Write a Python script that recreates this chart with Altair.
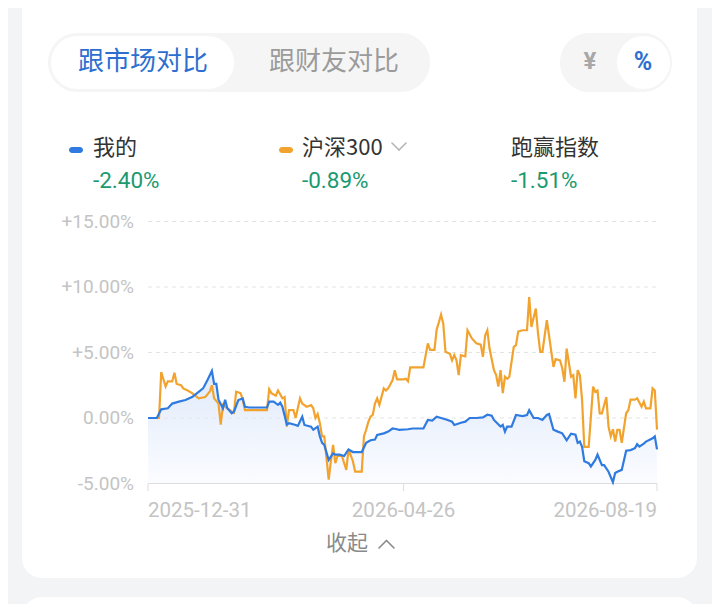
import altair as alt
import pandas as pd

# ---------------- data ----------------
START = "2025-12-31"
x_tick_labels = ["2025-12-31", "2026-04-26", "2026-08-19"]
y_ticks = [-5, 0, 5, 10, 15]
y_tick_labels = ["-5.00%", "0.00%", "+5.00%", "+10.00%", "+15.00%"]

# days since 2025-12-31, cumulative return (%)
me_days = [0, 4, 6, 9, 11, 14, 17, 20, 23, 25, 27, 29, 30, 31, 32, 34, 35, 36, 38, 39, 41, 43, 44, 46, 54, 55, 57, 59, 60, 61,
           63, 64, 67, 68, 70, 71, 74, 75, 77, 78, 79, 80, 82, 84, 85, 87, 89, 91, 93, 97, 99, 101, 103, 104, 107, 109, 111, 113, 114, 118,
           120, 125, 127, 129, 131, 133, 136, 138, 139, 142, 144, 146, 149, 152, 154, 156, 157, 160, 161, 162, 163, 165, 167, 170, 172, 173, 175, 177, 179, 181,
           182, 184, 186, 188, 190, 192, 194, 195, 196, 197, 198, 200, 201, 203, 204, 206, 207, 209, 210, 211, 212, 213, 215, 217, 219, 221, 222, 223, 225, 226,
           229, 230, 231]
me_vals = [0, 0, 0.66, 0.74, 1.1, 1.25, 1.37, 1.6, 2.0, 2.26, 2.9, 3.6, 2.6, 2.6, 1.4, 0.74, 1.4, 0.74, 0.36, 0.48, 1.37, 1.5, 0.86, 0.8, 0.8, 1.25, 1.25, 1.0, 1.17, 0.86,
           -0.5, -0.4, -0.53, -0.6, 0.1, -0.53, -0.66, -0.9, -0.66, -1.4, -1.9, -2.05, -3.2, -2.7, -2.8, -2.8, -2.9, -2.4, -2.6, -2.6, -1.9, -1.7, -1.65, -1.3, -1.17, -1.04, -0.8, -0.86, -0.9, -0.86,
           -0.8, -0.8, -0.15, -0.2, 0.1, 0.0, -0.15, -0.28, -0.53, -0.36, -0.28, 0.0, 0.0, 0.05, 0.25, 0.18, -0.15, -0.66, -0.53, -1.04, -0.66, -0.66, 0.23, 0.15, 0.23, 0.6, 0.0, 0.0, -0.15, 0.23,
           0.3, -0.9, -1.04, -1.17, -1.7, -1.2, -1.28, -1.9, -1.8, -2.2, -3.3, -3.45, -3.7, -3.2, -2.8, -3.6, -3.6, -4.1, -4.5, -4.9, -4.2, -4.1, -3.96, -2.5, -2.45, -2.3, -2.0, -2.18, -1.95, -1.8,
           -1.55, -1.4, -2.40]

hs_days = [0, 5, 6, 8, 9, 11, 12, 13, 15, 16, 18, 20, 23, 26, 28, 29, 30, 32, 33, 34, 36, 38, 39, 40, 42, 43, 44, 54, 55, 56,
           58, 59, 61, 62, 63, 64, 66, 67, 69, 70, 72, 74, 75, 76, 77, 78, 79, 80, 82, 83, 84, 85, 86, 88, 90, 91, 93, 94, 97, 98,
           99, 100, 101, 102, 103, 104, 105, 107, 108, 109, 111, 112, 113, 116, 117, 118, 119, 125, 127, 128, 130, 131, 132, 133, 134, 135, 137, 138, 139, 140,
           141, 142, 144, 145, 147, 149, 151, 152, 153, 154, 155, 157, 158, 159, 160, 161, 162, 163, 164, 166, 167, 168, 170, 172, 173, 174, 176, 177, 178, 179,
           181, 182, 184, 185, 187, 188, 189, 190, 192, 193, 194, 195, 196, 197, 198, 200, 202, 203, 204, 205, 206, 208, 209, 210, 211, 212, 213, 214, 215, 217,
           218, 219, 221, 222, 224, 225, 226, 228, 229, 230, 231]
hs_vals = [0, 0, 3.5, 2.4, 2.8, 2.8, 3.45, 2.6, 2.5, 2.26, 2.1, 1.9, 1.5, 1.6, 2.0, 2.5, 1.5, 1.1, -0.5, 1.0, 0.74, 0.5, 0.4, 2.0, 1.9, 1.4, 0.6, 0.6, 2.2, 1.9,
           1.7, 2.1, 1.5, 1.6, -0.66, 0.6, 0.6, 0.0, 1.5, 1.1, 0.86, 0.98, 0.74, 0.0, 0.3, -0.4, -1.4, -1.4, -4.7, -3.3, -2.05, -3.45, -2.9, -2.9, -3.96, -2.4, -3.3, -4.1, -4.1, -1.4,
           -0.9, -0.3, 0.1, 0.23, 1.1, 1.5, 1.0, 2.26, 2.1, 2.26, 2.9, 3.65, 2.95, 2.95, 3.0, 2.8, 3.86, 3.86, 5.7, 5.2, 5.2, 6.75, 7.3, 7.9, 7.2, 5.05, 4.9, 4.4, 4.8, 4.4,
           3.27, 4.8, 4.7, 6.7, 6.07, 5.7, 5.6, 4.67, 6.3, 6.7, 5.3, 3.65, 3.27, 2.4, 3.65, 1.9, 3.15, 3.0, 3.15, 5.43, 5.56, 6.6, 6.7, 6.7, 9.24, 6.95, 8.35, 6.45, 5.05, 5.05,
           7.46, 6.3, 3.9, 4.5, 4.4, 3.8, 2.77, 5.3, 3.15, 3.27, 1.5, 3.65, 3.27, 1.37, -2.2, -2.2, 2.4, 2.0, 2.1, 0.36, 0.36, 1.6, -0.66, -1.4, -0.86, -1.8, -0.9, -0.9, -1.9, 0.36,
           0.6, 1.4, 1.4, 1.5, 0.86, 1.25, 0.74, 0.74, 2.26, 2.1, -0.89]

tabs = ["跟市场对比", "跟财友对比"]
legend_names = ["我的", "沪深300", "跑赢指数"]
legend_values = ["-2.40%", "-0.89%", "-1.51%"]
units = ["¥", "%"]
collapse_label = "收起"

# ---------------- style ----------------
BLUE = "#2f7be0"
ORANGE = "#f2a32e"
GREEN = "#1b9a70"
GRAY_LBL = "#c4c4c4"
CJK = "Noto Sans CJK SC"
NUM = "Roboto"

start = pd.Timestamp(START)
tick_days = [(pd.Timestamp(d) - start).days for d in x_tick_labels]
end_day = tick_days[-1]

xs = alt.Scale(domain=[0, end_day], range=[140, 649], nice=False, zero=False)
ys = alt.Scale(domain=[-5, 15], range=[475.5, 213.5], nice=False, zero=False)

me_df = pd.DataFrame({"day": me_days, "val": me_vals})
me_df["base"] = y_ticks[0]
hs_df = pd.DataFrame({"day": hs_days, "val": hs_vals})
grid_df = pd.DataFrame({"v": y_ticks, "lbl": y_tick_labels, "x0": 0, "x1": end_day})
xt_df = pd.DataFrame({"day": tick_days, "lbl": x_tick_labels, "bot": y_ticks[0]})

one = pd.DataFrame({"k": [0]})


def rect(x, x2, y, y2, color, r):
    return alt.Chart(one).mark_rect(color=color, cornerRadius=r).encode(
        x=alt.value(x), x2=alt.value(x2), y=alt.value(y), y2=alt.value(y2))


def txt(t, x, y, size, color, font=CJK, align="left", weight="normal"):
    return alt.Chart(one).mark_text(text=t, align=align, baseline="middle", fontSize=size,
                                    color=color, font=font, fontWeight=weight).encode(
        x=alt.value(x), y=alt.value(y))


def seg(x, y, x2, y2, color, w=1.6):
    return alt.Chart(one).mark_rule(color=color, strokeWidth=w, strokeCap="round").encode(
        x=alt.value(x), y=alt.value(y), x2=alt.value(x2), y2=alt.value(y2))


X = alt.X("day:Q", scale=xs, axis=None)

layers = [
    # cards
    rect(14, 689, -40, 570, "white", 20),
    rect(14, 689, 589, 660, "white", 20),
    # tabs
    rect(40, 422, 25, 84, "#f5f5f6", 30),
    rect(43, 226, 28, 81, "white", 27),
    txt(tabs[0], 135, 54, 26, "#2d6fd0", align="center"),
    txt(tabs[1], 326, 54, 26, "#9b9b9b", align="center"),
    rect(552, 664, 25, 84, "#f5f5f6", 30),
    rect(609, 662, 28, 81, "white", 27),
    txt(units[0], 582, 54, 24, "#a8a8a8", font=NUM, align="center", weight="bold"),
    txt(units[1], 635, 54, 25, "#2d6fd0", font=NUM, align="center", weight="bold"),
    # legend
    rect(61, 75, 139, 145, BLUE, 3),
    txt(legend_names[0], 85, 140, 22, "#333333"),
    txt(legend_values[0], 85, 173, 22.5, GREEN, font=NUM),
    rect(271, 285, 139, 145, ORANGE, 3),
    txt(legend_names[1], 294, 140, 22, "#333333"),
    seg(384, 135, 391, 142, "#b5b5b5"),
    seg(391, 142, 398, 135, "#b5b5b5"),
    txt(legend_values[1], 294, 173, 22.5, GREEN, font=NUM),
    txt(legend_names[2], 503, 140, 22, "#333333"),
    txt(legend_values[2], 503, 173, 22.5, GREEN, font=NUM),
    # collapse
    txt(collapse_label, 339, 536, 21, "#8a8a8a", align="center"),
    seg(371, 540, 378.5, 532.5, "#8a8a8a"),
    seg(378.5, 532.5, 386, 540, "#8a8a8a"),
]

grid = alt.Chart(grid_df[grid_df.v > y_ticks[0]]).mark_rule(
    color="#e4e4e4", strokeDash=[4, 4], strokeWidth=1).encode(
    x=alt.X("x0:Q", scale=xs, axis=None), x2="x1:Q",
    y=alt.Y("v:Q", scale=ys, axis=None))
base_line = alt.Chart(grid_df[grid_df.v == y_ticks[0]]).mark_rule(
    color="#dddddd", strokeWidth=1).encode(
    x=alt.X("x0:Q", scale=xs, axis=None), x2="x1:Q",
    y=alt.Y("v:Q", scale=ys, axis=None))
ylabels = alt.Chart(grid_df).mark_text(
    align="right", baseline="middle", dx=-14, fontSize=19, font=NUM, color=GRAY_LBL).encode(
    x=alt.X("x0:Q", scale=xs, axis=None), y=alt.Y("v:Q", scale=ys, axis=None), text="lbl:N")
xticks = alt.Chart(xt_df).mark_rule(color="#dddddd", strokeWidth=1).encode(
    x=X, y=alt.Y("bot:Q", scale=ys, axis=None), y2=alt.value(483))

xlabels = []
for i, al in enumerate(["left", "center", "right"]):
    xlabels.append(alt.Chart(xt_df.iloc[[i]]).mark_text(
        align=al, baseline="middle", dy=27, fontSize=20.5, font=NUM, color=GRAY_LBL).encode(
        x=X, y=alt.Y("bot:Q", scale=ys, axis=None), text="lbl:N"))

area = alt.Chart(me_df).mark_area(
    color=alt.Gradient(gradient="linear",
                       stops=[alt.GradientStop(color="#e0eafb", offset=0),
                              alt.GradientStop(color="#fbfcff", offset=1)],
                       x1=1, x2=1, y1=0, y2=1)).encode(
    x=X, y=alt.Y("val:Q", scale=ys, axis=None), y2="base:Q")

hs_line = alt.Chart(hs_df).mark_line(color=ORANGE, strokeWidth=2.2).encode(
    x=X, y=alt.Y("val:Q", scale=ys, axis=None))
me_line = alt.Chart(me_df).mark_line(color=BLUE, strokeWidth=2.2).encode(
    x=X, y=alt.Y("val:Q", scale=ys, axis=None))

chart = alt.layer(
    *layers, area, grid, base_line, ylabels, xticks, *xlabels, hs_line, me_line
).properties(
    width=704, height=596, padding=0,
    autosize=alt.AutoSizeParams(type="none"),
    background="#f3f4f6",
).configure_view(stroke=None)

chart.save("out.html", embed_options={"renderer": "svg", "actions": False})
